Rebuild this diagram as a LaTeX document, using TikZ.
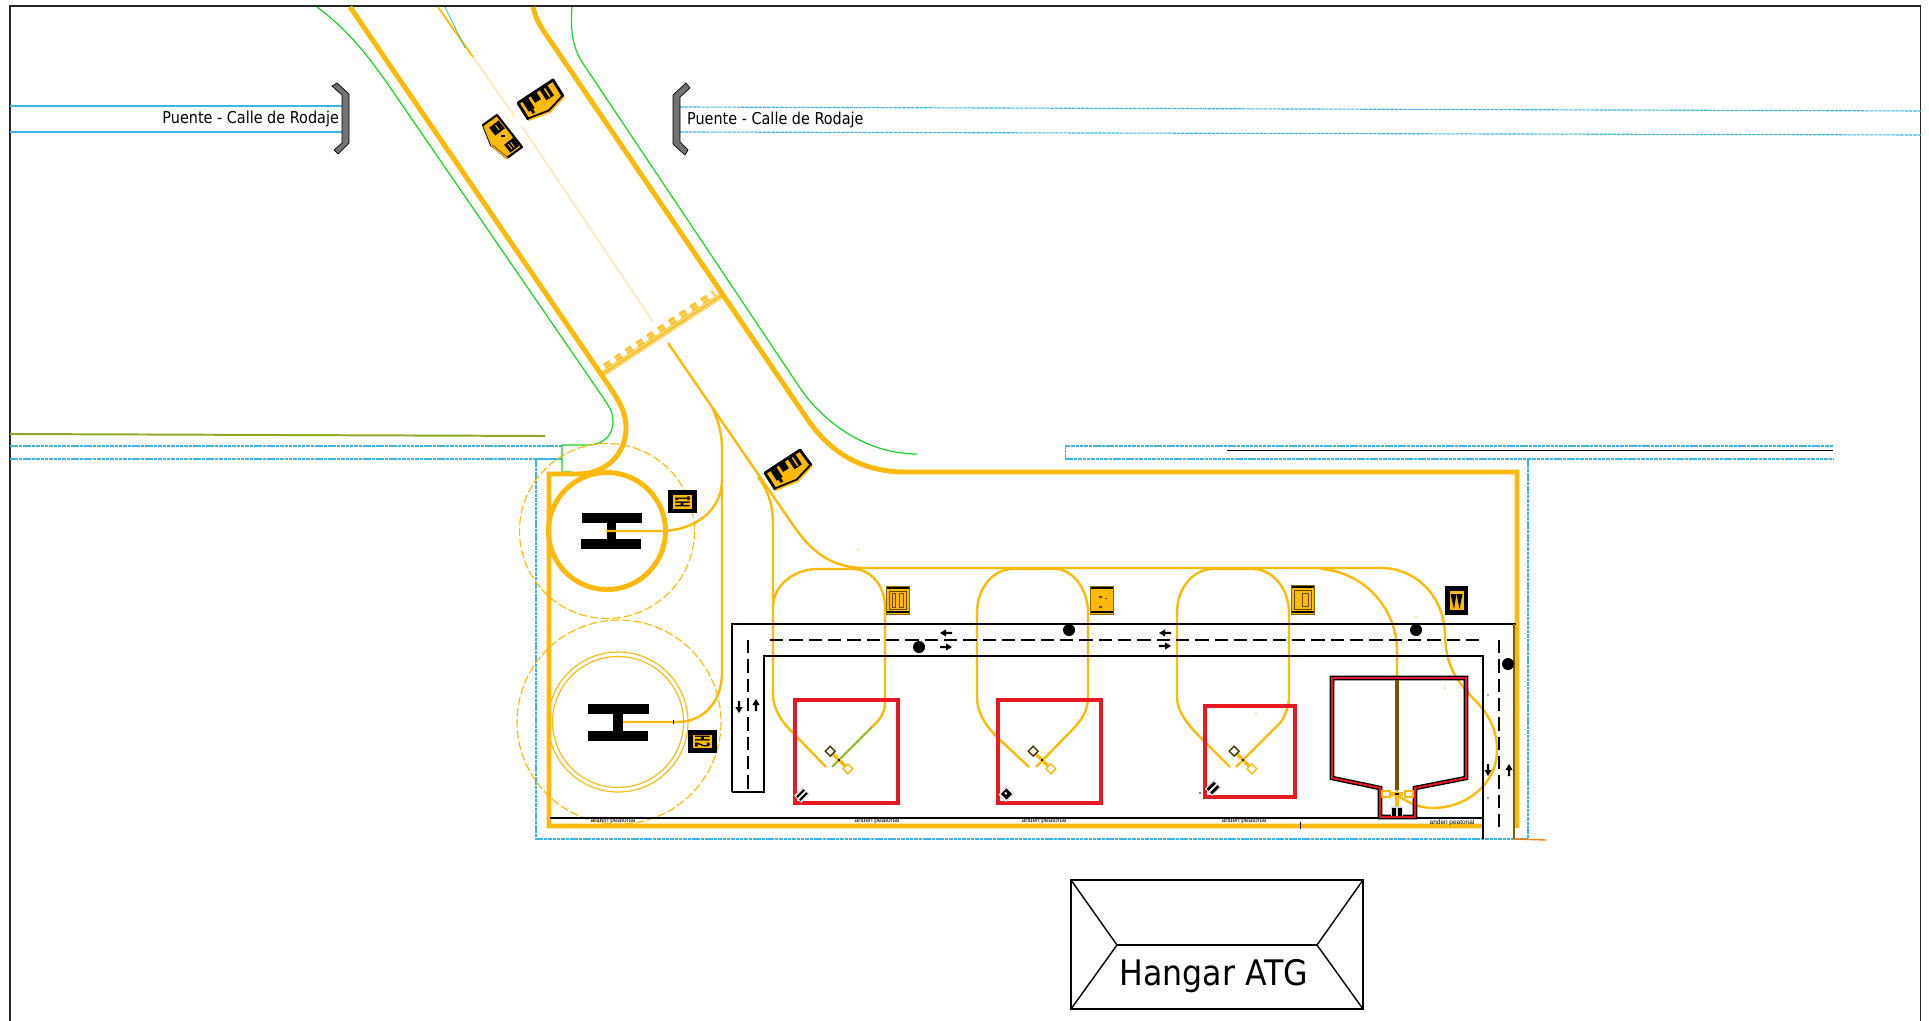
\documentclass[tikz,border=0pt]{standalone}
\usepackage{fontspec}
\setmainfont{DejaVu Sans}
\newfontfamily\labfont[FakeStretch=0.88]{DejaVu Sans}
\newfontfamily\hangfont[FakeStretch=0.9]{DejaVu Sans}
\newfontfamily\tinyfont{Liberation Sans}
\definecolor{ora}{RGB}{255,185,10}
\definecolor{orapale}{RGB}{255,228,175}
\definecolor{orahatch}{RGB}{255,195,50}
\definecolor{gre}{RGB}{20,215,30}
\definecolor{blu}{RGB}{60,180,230}
\definecolor{olive}{RGB}{140,170,40}
\definecolor{redb}{RGB}{230,25,35}
\definecolor{bridgegrey}{RGB}{115,115,115}
\tikzset{
  wallline/.style={draw=ora,line width=7pt,line join=miter},
  taxiline/.style={draw=ora,line width=3.4pt},
  greenline/.style={draw=gre,line width=1.7pt},
  blueline/.style={draw=blu,line width=2pt},
  bluedash/.style={draw=blu,line width=1.6pt,dash pattern=on 5pt off 1.2pt},
  circdash/.style={draw=ora,line width=1.6pt,dash pattern=on 12pt off 4pt},
  roadline/.style={draw=black,line width=2.8pt},
  roaddash/.style={draw=black,line width=2.8pt,dash pattern=on 19pt off 8.5pt},
  redbox/.style={draw=redb,line width=5pt},
  bridge/.style={fill=bridgegrey,draw=black,line width=1pt},
  plainsign/.style={fill=ora,draw=black!45!ora,line width=1.2pt},
  endbox/.style={draw=ora,fill=white,line width=2pt},
  anden/.style={font=\tinyfont\fontsize{9.2}{10}\selectfont,inner sep=0pt},
  puente/.style={font=\labfont\fontsize{23.3}{26}\selectfont,inner sep=0pt},
}
\newcommand{\blockarrow}[3]{\fill[black,shift={(#1,#2)},rotate=#3] (-6,-1.2) -- (0,-1.2) -- (0,-3.6) -- (6,0) -- (0,3.6) -- (0,1.2) -- (-6,1.2) -- cycle;}
\newcommand{\tbar}[2]{%
  \begin{scope}[shift={(#1,#2)},rotate=-45]
    \draw[draw=ora,line width=4.6pt] (-15,0) -- (15,0);
    \draw[endbox,draw=black!70!ora] (-16,-3.4) rectangle (-9,3.4);
    \draw[endbox] (9,-3.4) rectangle (16,3.4);
    \fill[black] (0,0) circle (1.2);
  \end{scope}}
\newcommand{\pentfigs}[3]{%
  \begin{scope}[shift={(#1,#2)},rotate=#3]
    \fill[black] (-16,-7) rectangle (-9,6);
    \fill[black] (-14,6) rectangle (-11,10);
    \fill[black] (-6,-7) rectangle (1,2);
    \fill[black] (5,-7) rectangle (14,6);
    \fill[ora] (9,-5) rectangle (10.5,5);
  \end{scope}}
\begin{document}
\begin{tikzpicture}[x=0.05cm,y=-0.05cm]
\useasboundingbox (0,0) rectangle (1929,1021);
\fill[white] (0,0) rectangle (1929,1021);
% frame
\draw[black!85,line width=1.8pt] (10,1021) -- (10,6) -- (1920.5,6) -- (1920.5,1021);
% blue bridge lines
\draw[blueline] (10,106) -- (342,106);
\draw[blueline] (10,132) -- (342,132);
\draw[bluedash] (680,107) -- (1922,111);
\draw[bluedash] (680,132) -- (1922,135);
\draw[bluedash] (10,446) -- (562,446);
\draw[bluedash] (10,459) -- (536,459);
\draw[blueline,line width=2.6pt] (536,459) -- (562,459);
\draw[bluedash] (536,459) -- (536,839) -- (1528,839) -- (1528,459) -- (1833,459);
\draw[bluedash] (1833,446) -- (1065.5,446) -- (1065.5,459) -- (1526,459);
\draw[black,line width=2.2pt] (1227,450.5) -- (1833,450.5);
\draw[draw=olive,line width=2.8pt] (10,434) -- (545,436);
% bridges
\draw[bridge] (332,86) -- (337,83) -- (349,94) -- (349,143) -- (338,154) -- (334,150) -- (342,143) -- (342,95) -- cycle;
\draw[bridge] (686,83) -- (690,88) -- (680,97) -- (680,142) -- (688,150) -- (685,155) -- (673,144) -- (673,95) -- cycle;
\node[puente,anchor=base east] (puenteL) at (339,124) {Puente - Calle de Rodaje};
\node[puente,anchor=base west] (puenteR) at (687,125) {Puente - Calle de Rodaje};
% green edges
\draw[greenline] (317,7) .. controls (345,28) and (362,48) .. (385,80) -- (602,396) .. controls (610,408) and (613,412) .. (613,422) .. controls (613,436) and (602,445) .. (588,445) -- (562,445) -- (562,472) -- (572,472);
\draw[greenline] (572,7) .. controls (570,30) and (573,48) .. (582,62) -- (800,388) .. controls (826,426) and (870,454) .. (917,454);
% centre line
\draw[draw=orapale,line width=2pt] (473,57) -- (515,117);
\draw[draw=orapale,line width=2pt] (521,125) -- (653,322);
\draw[draw=ora,line width=2.6pt] (438,7) -- (473,57);
\draw[draw=blu!50!gre,line width=1pt] (445,7) -- (465,48);
% stop bar
\draw[draw=orahatch,line width=8pt] (601,375) -- (722,295);
\draw[draw=orahatch,line width=10pt,dash pattern=on 10pt off 8.5pt] (605,367) -- (714,293);
\draw[white,line width=.45pt] (600,373.5) -- (721,293.5);
\draw[white,line width=.45pt] (598,370.5) -- (719,290.5);
\draw[white,line width=.45pt] (596,367.5) -- (716,287.5);
\draw[white,line width=.45pt] (602,376.5) -- (723,296.5);
\fill[black] (722,296) rectangle (727,298);
% H glyphs
\fill[black] (582,513) rectangle (642,523);
\fill[black] (581,539) rectangle (641,549);
\fill[black] (607,523) rectangle (616,539);
\fill[black] (588,704) rectangle (649,714);
\fill[black] (588,731) rectangle (648,741);
\fill[black] (613,714) rectangle (623,731);
% road walls
\draw[wallline] (350,7) -- (605,380) .. controls (620,402) and (626,412) .. (626,428) .. controls (626,455) and (605,474) .. (578,474) -- (549,474) -- (549,826) -- (1482,826);
\draw[wallline] (533,7) .. controls (536,18) and (538,22) .. (543,30) -- (808,420) .. controls (832,455) and (865,472) .. (905,472) -- (1517,472) -- (1517,828);
\fill[black] (1299.5,822) rectangle (1301,829);
% circles
\draw[circdash] (607,531) circle (87.5);
\draw[circdash] (619,722) circle (102);
\draw[draw=ora,line width=7pt] (607,531) circle (58.5);
\draw[draw=ora,line width=1.6pt] (618,722) circle (70);
\draw[draw=ora,line width=1.6pt] (618,722) circle (65.5);
% taxi lines
\draw[taxiline] (668,343) -- (793,525) .. controls (810,550) and (830,568) .. (865,568) -- (1381,568) .. controls (1415,568) and (1444,595) .. (1445,635) .. controls (1446,665) and (1455,678) .. (1470,695) .. controls (1485,710) and (1497,725) .. (1497,750) .. controls (1497,785) and (1465,808) .. (1433,808) .. controls (1420,808) and (1408,803) .. (1397,795);
\draw[taxiline] (606,531) -- (660,531) .. controls (695,531) and (722,510) .. (722,480) -- (722,450) .. controls (722,432) and (718,420) .. (712,407);
\draw[taxiline] (623,722) -- (677,722) .. controls (705,722) and (722,700) .. (722,673) -- (722,480);
\fill[black] (673,720) rectangle (674,724);
% stand 1
\draw[taxiline] (758,477) .. controls (768,490) and (773,505) .. (773,525) -- (773,693) .. controls (773,710) and (782,722) .. (793,733) -- (826,767);
\draw[taxiline] (773,607) .. controls (773,585) and (795,569) .. (817,569) -- (853,569) .. controls (870,569) and (885,585) .. (885,607) -- (885,703) .. controls (885,712) and (880,720) .. (872,727) -- (832,767);
\draw[draw=blu!40!gre,line width=1.2pt] (872,727) -- (832,767);
% stand 2
\draw[taxiline] (1029,767) -- (997,737) .. controls (985,725) and (977,712) .. (977,697) -- (977,613) .. controls (977,588) and (993,569) .. (1013,569) -- (1055,569) .. controls (1072,569) and (1088,588) .. (1088,613) -- (1088,697) .. controls (1088,710) and (1082,720) .. (1072,730) -- (1036,767);
% stand 3
\draw[taxiline] (1230,767) -- (1203,740) .. controls (1188,725) and (1177,712) .. (1177,697) -- (1177,613) .. controls (1177,588) and (1193,569) .. (1213,569) -- (1253,569) .. controls (1272,569) and (1289,588) .. (1289,613) -- (1289,697) .. controls (1289,705) and (1286,715) .. (1280,723) -- (1236,767);
% stand 4 line
\draw[taxiline] (1321,569) .. controls (1365,572) and (1397,610) .. (1397,650) -- (1397,807);
% road
\draw[roadline] (732,792) -- (732,624) -- (1516,624);
\draw[roadline] (732,792) -- (764,792) -- (764,656) -- (1483,656) -- (1483,839);
\draw[draw=black!50!ora,line width=2pt] (1514,624) -- (1514,839);
\draw[draw=orange!80!brown,line width=2pt] (1513,839) -- (1546,840);
\draw[roaddash] (770,640) -- (1484,640);
\draw[roaddash] (748,640) -- (748,790);
\draw[roaddash] (1499,640) -- (1499,828);
\draw[black,line width=2.8pt] (550,818) -- (1483,818);
\blockarrow{739}{707}{-90}
\blockarrow{756}{705}{90}
\blockarrow{946}{633}{180}
\blockarrow{946}{647}{0}
\blockarrow{1165}{633}{180}
\blockarrow{1165}{646}{0}
\blockarrow{1488}{770}{-90}
\blockarrow{1509}{770}{90}
\fill[black] (919,647) circle (6);
\fill[black] (1069,630) circle (6);
\fill[black] (1416,630) circle (6);
\fill[black] (1508,664) circle (6);
% red boxes
\draw[redbox] (795,700) rectangle (898,803);
\draw[redbox] (998,700) rectangle (1101,803);
\draw[redbox] (1205,706) rectangle (1295,797);
% building
\draw[black,line width=6.5pt,line join=miter] (1332,678) -- (1466,678) -- (1466,778) -- (1415,788) -- (1415,817) -- (1380,817) -- (1380,788) -- (1332,778) -- cycle;
\draw[redb,line width=2.8pt,line join=miter] (1332,678) -- (1466,678) -- (1466,778) -- (1415,788) -- (1415,817) -- (1380,817) -- (1380,788) -- (1332,778) -- cycle;
\draw[draw=black!55!ora,line width=4.5pt] (1397,680) -- (1397,790);
\draw[draw=ora,line width=4.5pt] (1397,794) -- (1397,808);
% T bars
\tbar{839}{760}
\tbar{1042}{760}
\tbar{1243}{760}
\draw[endbox] (1382,791) rectangle (1390,797);
\draw[endbox] (1405,791) rectangle (1413,797);
\draw[draw=ora,line width=4.5pt] (1391,794) -- (1403,794);
\fill[black] (1395,793) rectangle (1399,795);
% small markers
\begin{scope}[shift={(802,795)},rotate=45]
  \fill[white,draw=black!25,line width=.5pt] (-6,-5) rectangle (6,5);
  \fill[black] (-5,-3.2) rectangle (5,-1); \fill[black] (-5,1) rectangle (5,3.2);
\end{scope}
\begin{scope}[shift={(1006.5,794)},rotate=45]
  \fill[white,draw=black!25,line width=.5pt] (-6,-5) rectangle (6,5);
  \fill[black] (-4,-4) rectangle (4,4);
  \fill[white] (-1,-2) rectangle (1,0);
\end{scope}
\begin{scope}[shift={(1213,788)},rotate=45]
  \fill[white,draw=black!25,line width=.5pt] (-6,-5) rectangle (6,5);
  \fill[black] (-5,-4) rectangle (5,-1); \fill[black] (-5,1) rectangle (5,4);
\end{scope}
\fill[black!15] (1391,806) rectangle (1403,816);
\fill[black] (1392,808) -- (1396,808) -- (1396,816) -- (1392,816) -- cycle;
\fill[black] (1398,808) -- (1402,808) -- (1402,816) -- (1398,816) -- cycle;
% H signs
\fill[black] (668,490) rectangle (697,513);
\fill[ora] (673,495) rectangle (692,509);
\node[inner sep=0pt,rotate=90,font=\bfseries\fontsize{15}{15}\selectfont] (signH1) at (682.5,502) {\scalebox{0.7}[1.9]{H1}};
\fill[black] (688,730) rectangle (717,753);
\fill[ora] (693,735) rectangle (712,748);
\node[inner sep=0pt,rotate=-90,font=\bfseries\fontsize{15}{15}\selectfont] (signH2) at (702.5,741.5) {\scalebox{0.7}[1.9]{H2}};
% stand signs
\draw[plainsign] (886,586) rectangle (909.5,614);
\fill[black] (886.5,587) rectangle (909,589);
\fill[black] (886.5,611) rectangle (909,613);
\draw[black!60!ora,line width=.7pt] (889,591) rectangle (906.5,609);
\draw[black!60!ora,line width=.7pt] (892,593) rectangle (895,607) (899,593) rectangle (903,607);
\draw[plainsign] (1090,586) rectangle (1113.5,614);
\fill[black] (1090.5,587) rectangle (1113,589);
\fill[black] (1090.5,611) rectangle (1113,613);
\fill[black!60!ora] (1099,596) rectangle (1102,598) (1099,606) rectangle (1102,608) (1105,598) rectangle (1107,599);
\draw[plainsign] (1291.5,585) rectangle (1314.5,614);
\fill[black] (1292,586) rectangle (1314,588);
\fill[black] (1292,611) rectangle (1314,613);
\draw[black!60!ora,line width=.7pt] (1294.5,590) rectangle (1311.5,609);
\draw[black!60!ora,line width=.7pt] (1302.5,593) rectangle (1308.5,606);
\fill[black] (1445,586) rectangle (1468,615);
\fill[ora] (1449.5,591) rectangle (1463.5,610);
\fill[black] (1450.5,594) -- (1456.5,594) -- (1454,609) -- cycle;
\fill[black] (1456.5,594) -- (1462.5,594) -- (1459.5,609) -- cycle;
% pentagon signs
\filldraw[fill=ora,draw=black,line width=4pt,line join=round] (518,103) -- (553,80) -- (563,96) -- (549,111) -- (528,119) -- cycle;
\pentfigs{539}{98}{33}
\draw[ora,line width=2.4pt] (564,97) -- (550,112) -- (529,120);
\filldraw[fill=ora,draw=black,line width=3pt,line join=round] (497,115) -- (522,147) -- (507,158) -- (491,145) -- (483,125) -- cycle;
\begin{scope}[shift={(497,128)},rotate=-52]
  \fill[black] (-5,-6) rectangle (5,6);
  \fill[ora] (-3,-1) rectangle (3,0);
\end{scope}
\begin{scope}[shift={(512,145)},rotate=-52]
  \fill[black] (-5,-6) rectangle (5,6);
  \fill[ora] (-3,-1) rectangle (3,0) (-3,2) rectangle (3,3);
\end{scope}
\fill[black] (501,135) rectangle (505,137);
\draw[ora,line width=2pt] (484,126) -- (492,146) -- (508,159);
\filldraw[fill=ora,draw=black,line width=4pt,line join=round] (765,473) -- (800,450) -- (811,465) -- (797,480) -- (775,489) -- cycle;
\pentfigs{787}{467}{33}
\draw[ora,line width=2.4pt] (812,466) -- (798,481) -- (776,490);
% anden labels
\node[anden] (anden1) at (613,821) {anden peatonal};
\node[anden] (anden2) at (877,821) {anden peatonal};
\node[anden] (anden3) at (1044,821) {anden peatonal};
\node[anden] (anden4) at (1244,821) {anden peatonal};
\node[anden] (anden5) at (1452,822.5) {anden peatonal};
% specks
\fill[ora] (858,550) circle (.8) (1416,617) circle (.8) (1445,688) circle (.8) (1088,714) circle (.8) (1256,714) circle (.8);
\fill[black!60] (1488,695) circle (.8);
\fill[gre!60!black] (1488,798) circle (.8);
\fill[black] (1200,793) circle (.8);
% hangar
\draw[black,line width=3.2pt] (1071,880) rectangle (1363,1009);
\draw[black,line width=2pt] (1071,880) -- (1117,945) -- (1071,1009);
\draw[black,line width=2pt] (1363,880) -- (1317,945) -- (1363,1009);
\draw[black,line width=2pt] (1117,945) -- (1317,945);
\node[inner sep=0pt,anchor=base,font=\hangfont\fontsize{50}{52}\selectfont] (hangar) at (1214,985) {Hangar ATG};
\end{tikzpicture}
\end{document}
